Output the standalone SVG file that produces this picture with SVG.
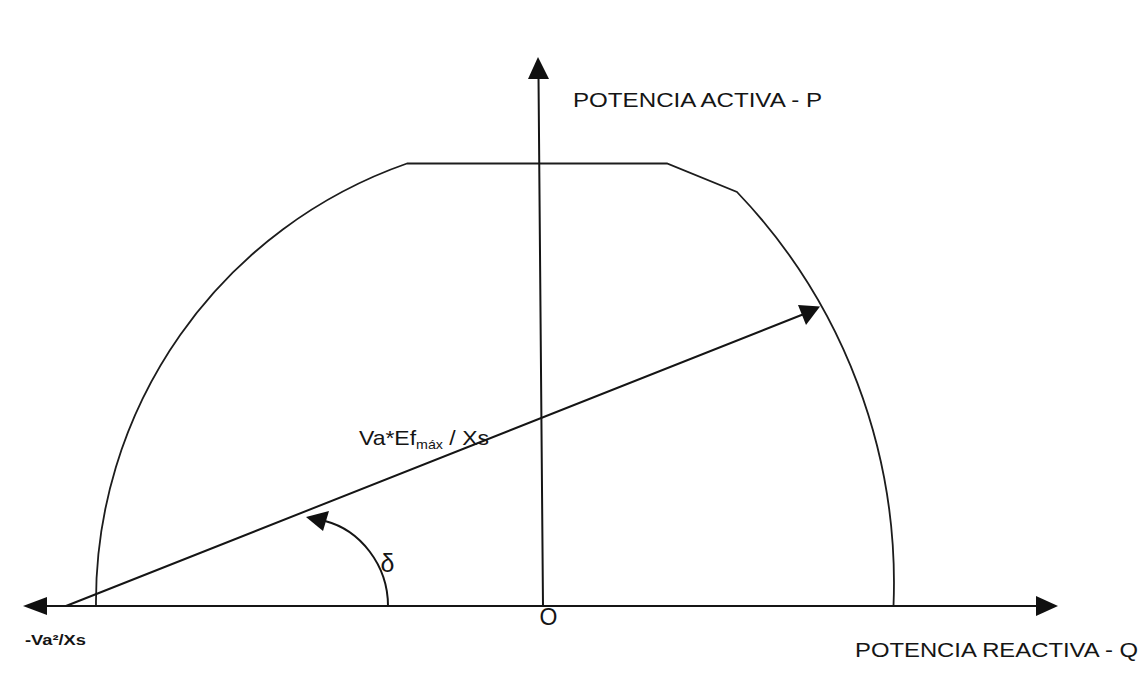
<svg xmlns="http://www.w3.org/2000/svg" width="1146" height="675" viewBox="0 0 1146 675">
<style>
.ln{stroke:#151515;stroke-width:2;fill:none;stroke-linecap:round}
.cv{stroke:#1c1c1c;stroke-width:1.8;fill:none}
.hd{fill:#101010;stroke:none}
.t{font-family:"Liberation Sans",Arial,sans-serif;fill:#151515}
</style>
<rect width="1146" height="675" fill="#fff"/>
<g id="limit-curve">
<path class="cv" d="M96 606 A464 464 0 0 1 407 163.5 L667 163.5 L737 192 A566 566 0 0 1 893.5 606"/>
</g>
<g id="connectors">
<line class="ln" x1="45" y1="606" x2="1038" y2="606"/>
<polygon class="hd" points="23,606 47,597 47,615"/>
<polygon class="hd" points="1058,606 1036,596 1036,616"/>
<line class="ln" x1="543" y1="606" x2="538.5" y2="76"/>
<polygon class="hd" points="538,57 528,79 549,79"/>
<line class="ln" x1="66" y1="606" x2="804" y2="314"/>
<polygon class="hd" points="820,306.5 798,305 806,325"/>
<path class="ln" d="M388 606 C388 565 360 530 325 521"/>
<polygon class="hd" points="306,517 329,511 323,531"/>
</g>
<g id="label-p"><text class="t" x="573" y="107" font-size="20" textLength="249" lengthAdjust="spacingAndGlyphs">POTENCIA ACTIVA - P</text></g>
<g id="label-q"><text class="t" x="855" y="657" font-size="21" textLength="283" lengthAdjust="spacingAndGlyphs">POTENCIA REACTIVA - Q</text></g>
<g id="label-origin"><text class="t" x="548.5" y="625" font-size="23" text-anchor="middle">O</text></g>
<g id="label-va"><text class="t" x="25" y="645" font-size="14" font-weight="bold" textLength="61" lengthAdjust="spacingAndGlyphs">-Va²/Xs</text></g>
<g id="label-vector"><text class="t" x="359" y="445" font-size="21" textLength="130" lengthAdjust="spacingAndGlyphs">Va*Ef<tspan font-size="13" dy="4">máx</tspan><tspan dy="-4"> / Xs</tspan></text></g>
<g id="label-delta"><text class="t" x="387.5" y="572" font-size="25" text-anchor="middle" font-family="'Liberation Serif',serif">δ</text></g>
</svg>
